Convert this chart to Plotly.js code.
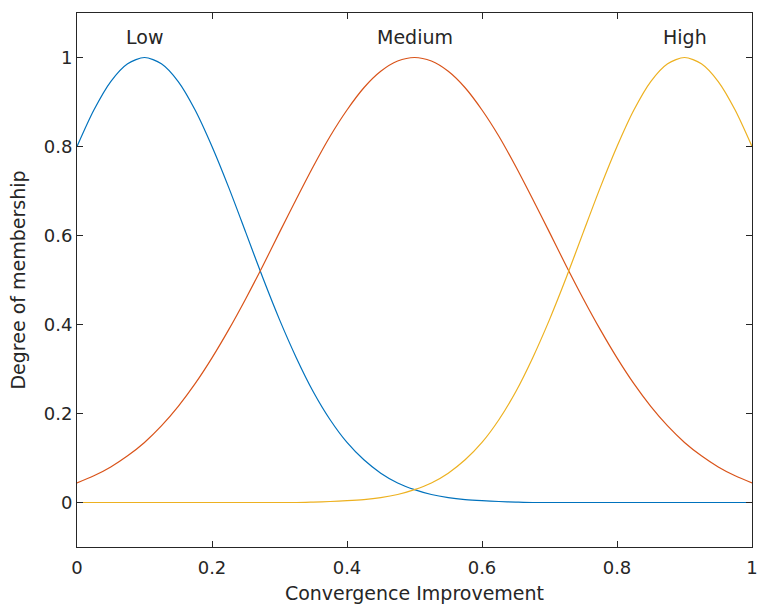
<!DOCTYPE html>
<html><head><meta charset="utf-8">
<script src="https://cdn.plot.ly/plotly-3.0.1.min.js"></script>
<style>html,body{margin:0;padding:0;background:#fff}</style>
</head><body>
<div id="chart" style="width:759px;height:608px"></div>
<script>
var xVals = [0,0.025,0.05,0.075,0.1,0.125,0.15,0.175,0.2,0.225,0.25,0.275,0.3,0.325,0.35,0.375,0.4,0.425,0.45,0.475,0.5,
             0.525,0.55,0.575,0.6,0.625,0.65,0.675,0.7,0.725,0.75,0.775,0.8,0.825,0.85,0.875,0.9,0.925,0.95,0.975,1];
var lowVals = [0.80,0.882,0.946,0.986,1,0.986,0.946,0.882,0.80,0.707,0.607,0.506,0.411,0.325,0.249,0.186,0.135,0.096,0.066,0.044,0.029,
               0.018,0.011,0.0066,0.004,0.0022,0.001,0,0,0,0,0,0,0,0,0,0,0,0,0,0];
var mediumVals = [0.044,0.060,0.080,0.105,0.135,0.172,0.216,0.267,0.325,0.389,0.458,0.531,0.607,0.682,0.755,0.823,0.882,0.932,0.969,0.992,1,
                  0.992,0.969,0.932,0.882,0.823,0.755,0.682,0.607,0.531,0.458,0.389,0.325,0.267,0.216,0.172,0.135,0.105,0.080,0.060,0.044];
var highVals = [0,0,0,0,0,0,0,0,0,0,0,0,0,0,0.001,0.0022,0.004,0.0066,0.011,0.018,0.029,
                0.044,0.066,0.096,0.135,0.186,0.249,0.325,0.411,0.506,0.607,0.707,0.80,0.882,0.946,0.986,1,0.986,0.946,0.882,0.80];
var seriesNames = ['Low','Medium','High'];
var labelX = [0.1,0.5,0.9];
var labelY = [1.047,1.047,1.047];
var tickVals = [0,0.2,0.4,0.6,0.8,1];
var tickText = ['0','0.2','0.4','0.6','0.8','1'];
var colors = ['#0072BD','#D95319','#EDB120'];
var series = [lowVals, mediumVals, highVals];

var traces = series.map(function(v,i){
  return {x:xVals, y:v, type:'scatter', mode:'lines', name:seriesNames[i],
    line:{color:colors[i], width:1.2, shape:'spline', smoothing:0.8}, hoverinfo:'skip'};
});

var fontFam = 'DejaVu Sans, sans-serif';
var txt = '#262626';
var layout = {
  width:759, height:608,
  margin:{l:77, r:7, t:13, b:61},
  paper_bgcolor:'#fff', plot_bgcolor:'#fff',
  showlegend:false,
  font:{family:fontFam, size:18, color:txt},
  xaxis:{range:[0,1], tickvals:tickVals, ticktext:tickText,
    ticks:'inside', ticklen:6, tickcolor:txt, showline:true, linecolor:txt, linewidth:1,
    mirror:'ticks', showgrid:false, zeroline:false, ticklabelstandoff:4,
    tickfont:{size:18, color:txt},
    title:{text:'Convergence Improvement', font:{size:19, color:txt}, standoff:10}},
  yaxis:{range:[-0.1,1.1], tickvals:tickVals, ticktext:tickText,
    ticks:'inside', ticklen:6, tickcolor:txt, showline:true, linecolor:txt, linewidth:1,
    mirror:'ticks', showgrid:false, zeroline:false,
    tickfont:{size:18, color:txt},
    title:{text:'Degree of membership', font:{size:19, color:txt}, standoff:13}},
  annotations: seriesNames.map(function(n,i){
    return {x:labelX[i], y:labelY[i], xref:'x', yref:'y', text:n, showarrow:false,
      font:{size:19, color:txt}, xanchor:'center', yanchor:'middle'};
  })
};
Plotly.newPlot('chart', traces, layout, {displayModeBar:false, staticPlot:true});
</script>
</body></html>
